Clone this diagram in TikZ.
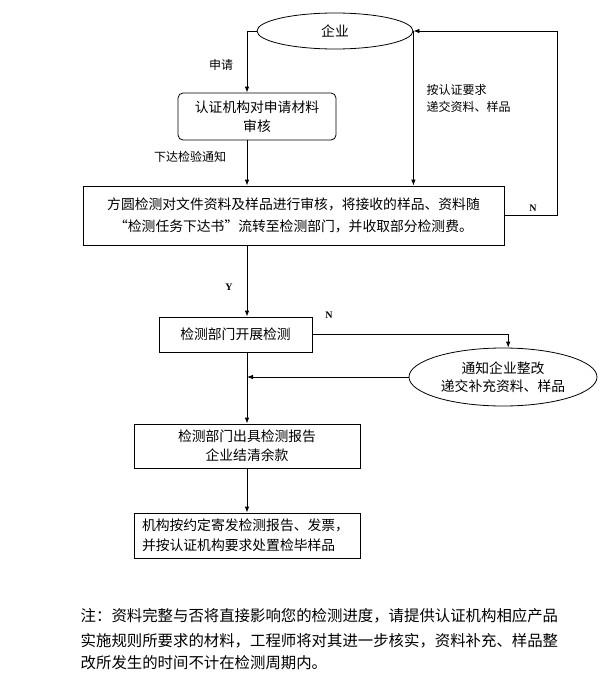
\documentclass[tikz,border=0pt]{standalone}
\usepackage{fontspec}
\newfontfamily\cjk{Noto Sans CJK SC}
\newfontfamily\tms{Liberation Serif}
\usetikzlibrary{arrows.meta,shapes.geometric}

\begin{document}
\begin{tikzpicture}[x=1pt,y=-1pt,line width=0.8pt,
    box/.style={draw, inner sep=0pt, align=center, font=\cjk\fontsize{13.8}{19}\selectfont},
    oval/.style={ellipse, draw, inner sep=0pt, align=center, font=\cjk\fontsize{13.8}{18}\selectfont},
    lab/.style={align=left, font=\cjk\fontsize{12}{17}\selectfont},
    yn/.style={font=\tms\bfseries\fontsize{10}{10}\selectfont},
    arr/.style={-{Latex[length=6pt,width=4.5pt]}}]

\useasboundingbox (0,0) rectangle (610,680);

% steps
\node [oval, minimum width=156, minimum height=36] (qy) at (335,31) {企业};
\node [box, rounded corners=5pt, minimum width=158, minimum height=47] (rz) at (257,116.5) {认证机构对申请材料\\审核};
\node [box, minimum width=421, minimum height=59, font=\cjk\fontsize{13.8}{22}\selectfont] (fy) at (293.5,215.5)
    {方圆检测对文件资料及样品进行审核，将接收的样品、资料随\\“检测任务下达书”流转至检测部门，并收取部分检测费。};
\node [box, minimum width=153, minimum height=35] (kz) at (235.5,334.5) {检测部门开展检测};
\node [oval, minimum width=188, minimum height=58] (tz) at (503,377) {通知企业整改\\递交补充资料、样品};
\node [box, minimum width=226, minimum height=44] (bg) at (247,446) {检测部门出具检测报告\\企业结清余款};
\node [box, align=left, text width=210, inner xsep=8pt, minimum height=45,
    font=\cjk\fontsize{13.8}{20}\selectfont] (jg) at (247,535.5) {机构按约定寄发检测报告、发票，\\并按认证机构要求处置检毕样品};

\coordinate (c1) at (247,31);
\coordinate (c2) at (557,31);

% connectors
\draw [arr] (qy.west) -- (c1) -- (c1 |- rz.north);
\draw [arr] (c1 |- rz.south) -- (c1 |- fy.north);
\draw [arr] (qy.east) -- (qy.east |- fy.north);
\draw [arr] (fy.east) -| (c2) -- (qy.east);
\draw [arr] (c1 |- fy.south) -- (c1 |- kz.north);
\draw [arr] (kz.east) -| (tz.80);
\draw [arr] (tz.west) -- (c1 |- tz.west);
\draw [arr] (c1 |- kz.south) -- (c1 |- bg.north);
\draw [arr] (c1 |- bg.south) -- (c1 |- jg.north);

% labels
\node [lab] (sq) at (221,65) {申请};
\node [lab] (xd) at (190,157) {下达检验通知};
\node [lab, anchor=west] (aj) at (423,98.5) {按认证要求\\递交资料、样品};
\node [yn] (n1) at (533,208) {N};
\node [yn] (y1) at (229,287) {Y};
\node [yn] (n2) at (329,315) {N};

% note
\node [anchor=base west, font=\cjk\fontsize{15.4}{24}\selectfont] (zs1) at (77,621) {注：资料完整与否将直接影响您的检测进度，请提供认证机构相应产品};
\node [anchor=base west, font=\cjk\fontsize{15.4}{24}\selectfont] (zs2) at (77,646) {实施规则所要求的材料，工程师将对其进一步核实，资料补充、样品整};
\node [anchor=base west, font=\cjk\fontsize{15.4}{24}\selectfont] (zs3) at (77,668) {改所发生的时间不计在检测周期内。};

\end{tikzpicture}
\end{document}
